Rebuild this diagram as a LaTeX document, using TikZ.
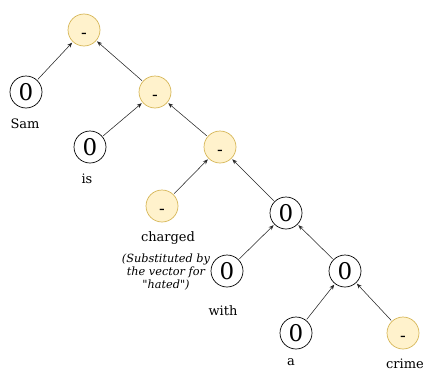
\documentclass[tikz,border=0pt]{standalone}
\usepackage{fontspec}
\setmainfont{DejaVu Serif}
\usetikzlibrary{arrows.meta}
\begin{document}
\begin{tikzpicture}[x=1pt,y=-1pt,
  leaf/.style={circle,draw=black,fill=white,line width=0.7pt,minimum size=32pt,inner sep=0pt,font=\fontsize{23}{24}\selectfont},
  comp/.style={circle,draw={rgb,255:red,214;green,182;blue,86},fill={rgb,255:red,255;green,242;blue,204},line width=0.7pt,minimum size=32pt,inner sep=0pt,text height=16pt,text depth=0pt,font=\fontsize{17}{18}\selectfont},
  word/.style={inner sep=0pt,font=\fontsize{13}{15}\selectfont},
  note/.style={inner sep=0pt,align=center,font=\fontsize{11.3}{13}\selectfont\itshape},
  edge/.style={draw=black!85,line width=0.55pt,-{Stealth[length=5pt,width=4pt]},shorten <=1pt,shorten >=1pt}]
\useasboundingbox (0,0) rectangle (427,372);
% tree nodes
\node[comp] (r0) at (84,30) {-};
\node[leaf] (sam) at (26,92) {0};
\node[comp] (n1) at (155,92) {-};
\node[leaf] (is) at (90,147) {0};
\node[comp] (n2) at (220,147) {-};
\node[comp] (ch) at (162,206) {-};
\node[leaf] (n3) at (286,213) {0};
\node[leaf] (wi) at (227,271) {0};
\node[leaf] (n4) at (345,271) {0};
\node[leaf] (aa) at (296,333) {0};
\node[comp] (cr) at (403,333) {-};
% word labels
\node[word] (lsam) at (25,124) {Sam};
\node[word] (lis) at (87,179) {is};
\node[word] (lch) at (168,238) {charged};
\node[note] (lnote) at (166,272) {(Substituted by\\the vector for\\\textquotedbl hated\textquotedbl)};
\node[word] (lwi) at (223,311) {with};
\node[word] (la) at (291,362) {a};
\node[word] (lcr) at (405,364) {crime};
% composition edges
\draw[edge] (sam) -- (r0);
\draw[edge] (n1) -- (r0);
\draw[edge] (is) -- (n1);
\draw[edge] (n2) -- (n1);
\draw[edge] (ch) -- (n2);
\draw[edge] (n3) -- (n2);
\draw[edge] (wi) -- (n3);
\draw[edge] (n4) -- (n3);
\draw[edge] (aa) -- (n4);
\draw[edge] (cr) -- (n4);
\end{tikzpicture}
\end{document}
